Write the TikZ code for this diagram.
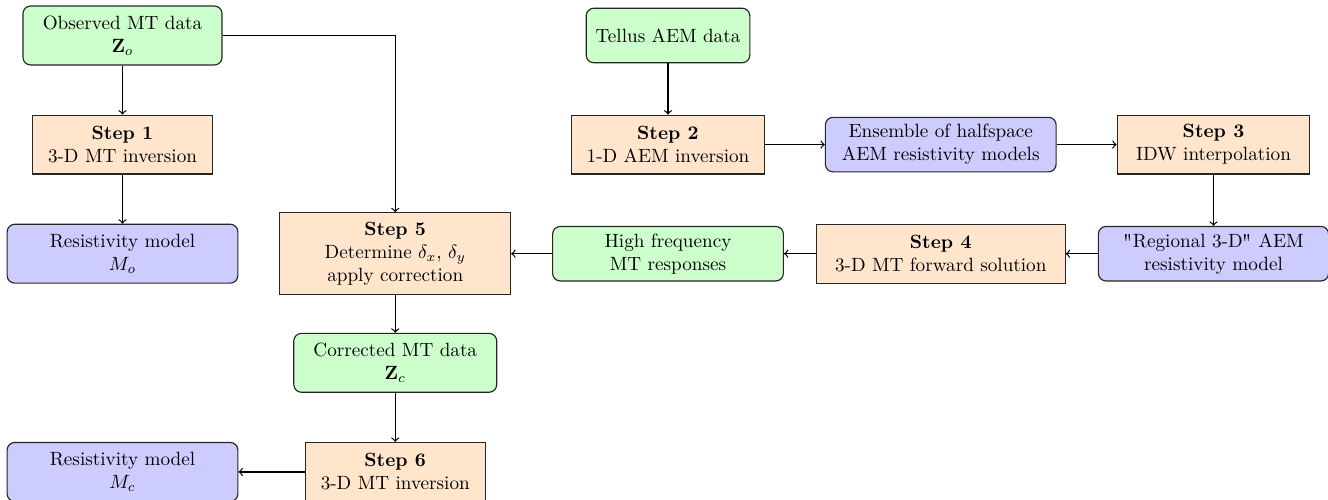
\documentclass[tikz,border=0pt]{standalone}
\usetikzlibrary{positioning}
\newcommand\straightq{{\fontencoding{T1}\selectfont\char34}}
\begin{document}
\begin{tikzpicture}[
  base/.style={draw=black!85, line width=0.6pt, align=center, inner sep=2pt, font=\normalsize},
  datab/.style={base, fill=green!20, rounded corners=4pt},
  modelb/.style={base, fill=blue!20, rounded corners=4pt},
  stepbox/.style={base, fill=orange!20},
  conn/.style={->, line width=0.65pt}
]
\useasboundingbox (-2.246,0.651) rectangle (22.099,-8.515);

\node[datab, minimum width=3.65cm, minimum height=1.08cm] (obs) at (0,0) {Observed MT data\\ $\mathbf{Z}_o$};
\node[stepbox, minimum width=3.30cm, minimum height=1.08cm] (s1) at (0,-2) {\textbf{Step 1}\\ 3-D MT inversion};
\node[modelb, minimum width=4.23cm, minimum height=1.08cm] (mo) at (0,-4) {Resistivity model\\ $M_o$};

\node[stepbox, minimum width=4.23cm, minimum height=1.50cm] (s5) at (5,-4) {\textbf{Step 5}\\ Determine $\delta_x$, $\delta_y$\\ apply correction};
\node[datab, minimum width=3.72cm, minimum height=1.08cm] (cor) at (5,-6) {Corrected MT data\\ $\mathbf{Z}_c$};
\node[stepbox, minimum width=3.30cm, minimum height=1.08cm] (s6) at (5,-8) {\textbf{Step 6}\\ 3-D MT inversion};
\node[modelb, minimum width=4.23cm, minimum height=1.08cm] (mc) at (0,-8) {Resistivity model\\ $M_c$};

\node[datab, minimum width=3.0cm, minimum height=1.0cm] (tel) at (10,0) {Tellus AEM data};
\node[stepbox, minimum width=3.55cm, minimum height=1.08cm] (s2) at (10,-2) {\textbf{Step 2}\\ 1-D AEM inversion};
\node[modelb, minimum width=4.23cm, minimum height=1.0cm] (ens) at (15,-2) {Ensemble of halfspace\\ AEM resistivity models};
\node[stepbox, minimum width=3.53cm, minimum height=1.08cm] (s3) at (20,-2) {\textbf{Step 3}\\ IDW interpolation};
\node[modelb, minimum width=4.22cm, minimum height=1.0cm] (reg) at (20,-4) {\straightq Regional 3-D\straightq{} AEM\\ resistivity model};
\node[stepbox, minimum width=4.56cm, minimum height=1.08cm] (s4) at (15,-4) {\textbf{Step 4}\\ 3-D MT forward solution};
\node[datab, minimum width=4.23cm, minimum height=1.0cm] (hf) at (10,-4) {High frequency\\ MT responses};

\draw[conn] (obs) -- (s1);
\draw[conn] (s1) -- (mo);
\draw[conn] (obs.east) -| (s5.north);
\draw[conn] (tel) -- (s2);
\draw[conn] (s2) -- (ens);
\draw[conn] (ens) -- (s3);
\draw[conn] (s3) -- (reg);
\draw[conn] (reg) -- (s4);
\draw[conn] (s4) -- (hf);
\draw[conn] (hf) -- (s5);
\draw[conn] (s5) -- (cor);
\draw[conn] (cor) -- (s6);
\draw[conn] (s6) -- (mc);
\end{tikzpicture}
\end{document}
